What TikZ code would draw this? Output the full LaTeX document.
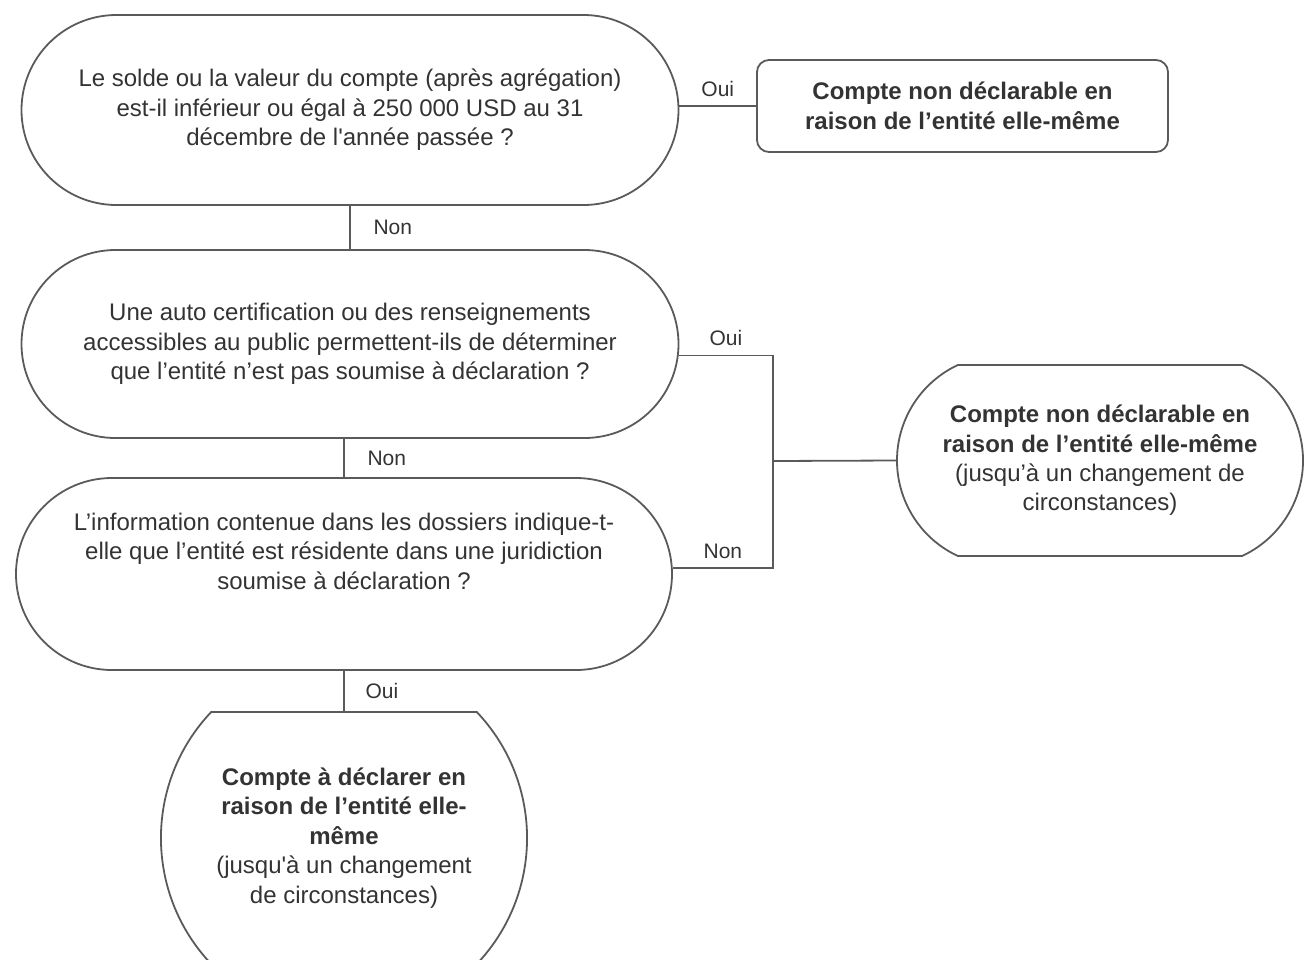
\documentclass[tikz,border=0pt]{standalone}
\usepackage{fontspec}
\setmainfont{Liberation Sans}
\usetikzlibrary{shapes.misc}

\definecolor{linegray}{HTML}{5A5A5A}
\definecolor{textgray}{HTML}{333333}

\begin{document}
\begin{tikzpicture}[x=0.5pt,y=-0.5pt,
    every node/.style={text=textgray,font=\fontsize{12}{14.7}\selectfont},
    question/.style={draw=linegray,line width=0.9pt,rounded rectangle,align=center,inner sep=2pt},
    lbl/.style={font=\fontsize{10.5}{12}\selectfont},
    conn/.style={draw=linegray,line width=0.9pt}]
  \useasboundingbox (0,0) rectangle (1307,959);

  % questions
  \node[question,minimum width=332.5pt,minimum height=95pt] (q1) at (350,110)
    {Le solde ou la valeur du compte (après agrégation)\\ est-il inférieur ou égal à 250 000 USD au 31\\ décembre de l\textquotesingle année passée ?};
  \node[question,minimum width=332.5pt,minimum height=94pt] (q2) at (350,344)
    {Une auto certification ou des renseignements\\ accessibles au public permettent-ils de déterminer\\ que l’entité n’est pas soumise à déclaration ?};
  \node[question,minimum width=332pt,minimum height=96pt] (q3) at (344,574)
    {L’information contenue dans les dossiers indique-t-\\elle que l’entité est résidente dans une juridiction\\ soumise à déclaration ?\\[8.3pt]\mbox{}};

  % results
  \node[draw=linegray,line width=0.9pt,rounded corners=6pt,minimum width=205.5pt,minimum height=46pt,align=center] (res1) at (962.5,106)
    {\textbf{Compte non déclarable en}\\ \textbf{raison de l’entité elle-même}};
  \node[question,rounded rectangle arc length=130,minimum width=207pt,minimum height=95.5pt] (res2) at (1100,460.5)
    {\textbf{Compte non déclarable en}\\ \textbf{raison de l’entité elle-même}\\ (jusqu’à un changement de\\ circonstances)};
  \node[question,rounded rectangle arc length=87,minimum width=181pt,minimum height=126pt] (res3) at (344,838)
    {\textbf{Compte à déclarer en}\\ \textbf{raison de l’entité elle-}\\ \textbf{même}\\ (jusqu\textquotesingle à un changement\\ de circonstances)};

  \coordinate (j) at (773,461);

  % connectors
  \draw[conn] (q1.east |- res1.west) -- node[lbl,above=1pt]{Oui} (res1.west);
  \draw[conn] (q1.south) -- node[lbl,right=8pt]{Non} (q2.north);
  \draw[conn] (q2.-2.4) -| node[lbl,above=1pt,pos=0.25]{Oui} (j) |- node[lbl,above=1pt,pos=0.75]{Non} (q3.1);
  \draw[conn] (j) -- (res2.west);
  \draw[conn] (q3.north |- q2.south) -- node[lbl,right=8pt]{Non} (q3.north);
  \draw[conn] (q3.south) -- node[lbl,right=7pt]{Oui} (res3.north);
\end{tikzpicture}
\end{document}
